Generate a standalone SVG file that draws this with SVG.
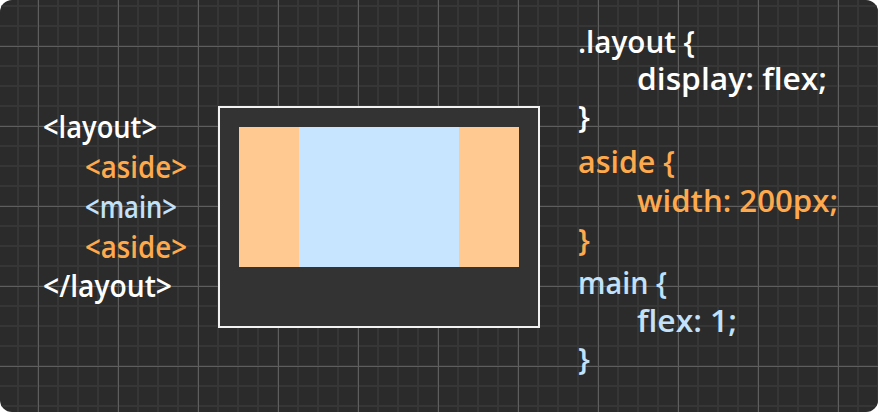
<svg xmlns="http://www.w3.org/2000/svg" width="878" height="412" viewBox="0 0 878 412">
  <style>
    .t { font-family: "Open Sans", "DejaVu Sans", sans-serif; font-size: 31px; font-weight: 600; }
    .w { fill: #ffffff; }
    .o { fill: #ffa94d; }
    .b { fill: #c2e1fb; }
  </style>
  <defs>
    <clipPath id="card"><rect x="0" y="0" width="878" height="412" rx="12" ry="12"/></clipPath>
    <pattern id="minor" patternUnits="userSpaceOnUse" x="17" y="5" width="20" height="20">
      <rect x="0" y="0" width="2" height="20" fill="#363636"/>
      <rect x="0" y="0" width="20" height="2" fill="#363636"/>
    </pattern>
    <pattern id="major" patternUnits="userSpaceOnUse" x="38" y="46" width="80" height="80">
      <rect x="0" y="0" width="1" height="80" fill="#5e5e5e"/>
      <rect x="0" y="0" width="80" height="1" fill="#5e5e5e"/>
    </pattern>
  </defs>
  <rect width="878" height="412" fill="#ffffff"/>
  <g id="background" clip-path="url(#card)">
    <rect width="878" height="412" fill="#2b2b2b"/>
    <rect width="878" height="412" fill="url(#minor)"/>
    <rect width="878" height="412" fill="url(#major)"/>
  </g>

  <g id="layout-box">
    <rect x="219" y="107" width="320" height="220" fill="#333333" stroke="#f2f2f2" stroke-width="2"/>
  </g>
  <g id="aside-left"><rect x="239" y="127" width="60" height="140" fill="#ffc991"/></g>
  <g id="main-area"><rect x="299" y="127" width="160" height="140" fill="#c7e5ff"/></g>
  <g id="aside-right"><rect x="459" y="127" width="60" height="140" fill="#ffc991"/></g>

  <g id="connectors"/>

  <g id="html-code">
    <text class="t w" x="43" y="138" textLength="114" lengthAdjust="spacingAndGlyphs">&lt;layout&gt;</text>
    <text class="t o" x="85" y="178" textLength="102" lengthAdjust="spacingAndGlyphs">&lt;aside&gt;</text>
    <text class="t b" x="85" y="218" textLength="92" lengthAdjust="spacingAndGlyphs">&lt;main&gt;</text>
    <text class="t o" x="85" y="258" textLength="102" lengthAdjust="spacingAndGlyphs">&lt;aside&gt;</text>
    <text class="t w" x="43" y="297" textLength="129" lengthAdjust="spacingAndGlyphs">&lt;/layout&gt;</text>
  </g>

  <g id="css-code">
    <text class="t w" x="578" y="53" textLength="117" lengthAdjust="spacingAndGlyphs">.layout {</text>
    <text class="t w" x="637" y="90" textLength="190" lengthAdjust="spacingAndGlyphs">display: flex;</text>
    <text class="t w" x="578" y="128">}</text>
    <text class="t o" x="578" y="173" textLength="97" lengthAdjust="spacingAndGlyphs">aside {</text>
    <text class="t o" x="637" y="212" textLength="201" lengthAdjust="spacingAndGlyphs">width: 200px;</text>
    <text class="t o" x="578" y="251">}</text>
    <text class="t b" x="578" y="294" textLength="89" lengthAdjust="spacingAndGlyphs">main {</text>
    <text class="t b" x="637" y="332" textLength="100" lengthAdjust="spacingAndGlyphs">flex: 1;</text>
    <text class="t b" x="578" y="370">}</text>
  </g>
</svg>
